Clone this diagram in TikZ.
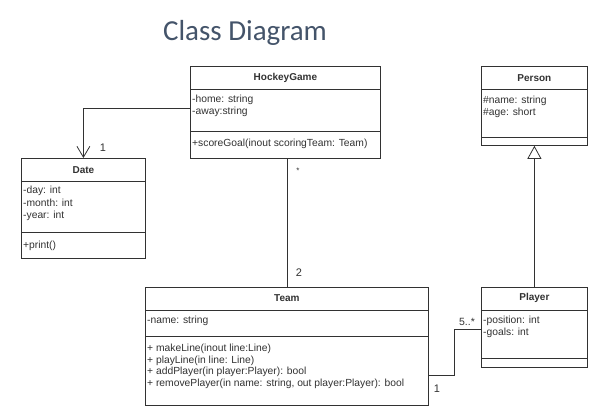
\documentclass[tikz,border=0pt]{standalone}
\usepackage{fontspec}
\setmainfont{Liberation Sans}
\newfontfamily\titlefont{Carlito}
\usetikzlibrary{arrows.meta,positioning}
\definecolor{titleblue}{RGB}{68,84,106}
\definecolor{umlgray}{RGB}{50,50,50}
\tikzset{
  classbox/.style={draw=umlgray, line width=0.8pt, fill=white, anchor=north west, inner sep=0pt},
  classname/.style={font=\fontsize{10}{11}\selectfont\bfseries, text=umlgray},
  members/.style={font=\fontsize{10.3}{11.5}\selectfont, text=umlgray, align=left, anchor=north west, inner sep=0pt},
  link/.style={draw=umlgray, line width=0.8pt},
  mult/.style={font=\fontsize{11}{12}\selectfont, text=umlgray},
}
\begin{document}
\begin{tikzpicture}[x=1pt,y=-1pt]
\useasboundingbox (0,0) rectangle (592,415);
\node[font=\titlefont\fontsize{29}{34}\selectfont, text=titleblue, anchor=base] (title) at (245,40) {Class Diagram};

% HockeyGame
\node[classbox, minimum width=190pt, minimum height=92pt] (game) at (190,66) {};
\node[classname] (gamename) at (game.north |- 0,78) {HockeyGame};
\draw[link] (game.west |- 0,89) -- (game.east |- 0,89);
\draw[link] (game.west |- 0,131) -- (game.east |- 0,131);
\node[members] (gameattr) at (192,95) {-home: string\\-away:string};
\node[members] (gameops) at (192,139) {+scoreGoal(inout scoringTeam: Team)};

% Date
\node[classbox, minimum width=124pt, minimum height=100pt] (date) at (21,158) {};
\node[classname] (datename) at (date.north |- 0,170) {Date};
\draw[link] (date.west |- 0,181) -- (date.east |- 0,181);
\draw[link] (date.west |- 0,232) -- (date.east |- 0,232);
\node[members, font=\fontsize{10.3}{12.5}\selectfont] (dateattr) at (23,186) {-day: int\\-month: int\\-year: int};
\node[members] (dateops) at (23,241) {+print()};

% Person
\node[classbox, minimum width=106pt, minimum height=79pt] (person) at (481,66) {};
\node[classname] (personname) at (person.north |- 0,78) {Person};
\draw[link] (person.west |- 0,89) -- (person.east |- 0,89);
\draw[link] (person.west |- 0,137) -- (person.east |- 0,137);
\node[members] (personattr) at (483,96) {\#name: string\\\#age: short};

% Player
\node[classbox, minimum width=106pt, minimum height=80pt] (player) at (481,287) {};
\node[classname] (playername) at (player.north |- 0,298) {Player};
\draw[link] (player.west |- 0,310) -- (player.east |- 0,310);
\draw[link] (player.west |- 0,358) -- (player.east |- 0,358);
\node[members] (playerattr) at (483,316) {-position: int\\-goals: int};

% Team
\node[classbox, minimum width=283pt, minimum height=118pt] (team) at (145,287) {};
\node[classname] (teamname) at (team.north |- 0,298) {Team};
\draw[link] (team.west |- 0,310) -- (team.east |- 0,310);
\draw[link] (team.west |- 0,336) -- (team.east |- 0,336);
\node[members] (teamattr) at (147,316) {-name: string};
\node[members] (teamops) at (147,344) {+ makeLine(inout line:Line)\\+ playLine(in line: Line)\\+ addPlayer(in player:Player): bool\\+ removePlayer(in name: string, out player:Player): bool};

% connectors
\draw[link, -{Straight Barb[length=11pt, width=13pt, line width=0.8pt]}] (game.west |- 0,108) -| (date.north);
\node[mult] (m1) at (103,148) {1};
\draw[link] (game.south -| team.north) -- (team.north);
\node[mult, font=\fontsize{8}{9}\selectfont] (m2) at (298,171) {*};
\node[mult] (m3) at (299,273) {2};
\draw[link, -{Triangle[open, length=13pt, width=14pt, line width=0.8pt]}] (player.north) -- (person.south);
\coordinate (bend) at (454,375);
\draw[link] (team.east |- bend) -- (bend) |- (player.west |- 0,329);
\node[mult, font=\fontsize{10.5}{12}\selectfont] (m4) at (467,322) {5..*};
\node[mult] (m5) at (437,389) {1};
\end{tikzpicture}
\end{document}
